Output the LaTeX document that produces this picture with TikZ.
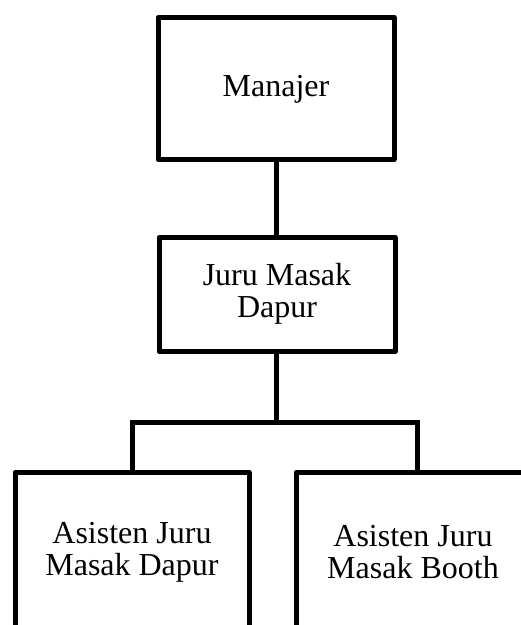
\documentclass[tikz,border=0pt]{standalone}
\usepackage{fontspec}
\setmainfont{Liberation Serif}
\begin{document}
\begin{tikzpicture}[x=1pt,y=-1pt,
  box/.style={draw, line width=5pt, line join=round, inner sep=0pt, minimum width=236pt, anchor=north},
  txt/.style={font=\fontsize{32}{32}\selectfont, align=center, inner sep=0pt},
  conn/.style={line width=5pt}]
\clip (0,0) rectangle (521,625);
\node[box, minimum height=142pt] (man) at (276,15) {};
\node[txt] (mant) at (276,89) {Manajer};
\node[box, minimum height=114pt] (juru) at (277,235) {};
\node[txt] (jurut) at (277,294) {Juru Masak\\Dapur};
\node[box, minimum width=234pt, minimum height=250pt] (ajd) at (132,470) {};
\node[txt] (ajdt) at (132,552) {Asisten Juru\\Masak Dapur};
\node[box, minimum width=234pt, minimum height=250pt] (ajb) at (413,470) {};
\node[txt] (ajbt) at (413,552) {Asisten Juru\\Masak Booth};
\coordinate (bar) at (276,422);
\coordinate (barL) at (132,422);
\coordinate (barR) at (417,422);
\draw[conn] (man.south -| bar) -- (juru.north -| bar);
\draw[conn] (juru.south -| bar) -- (bar);
\draw[conn, line cap=rect] (barL) -- (barR);
\draw[conn] (barL) -- (ajd.north);
\draw[conn] (barR) -- (barR |- ajb.north);
\end{tikzpicture}
\end{document}
